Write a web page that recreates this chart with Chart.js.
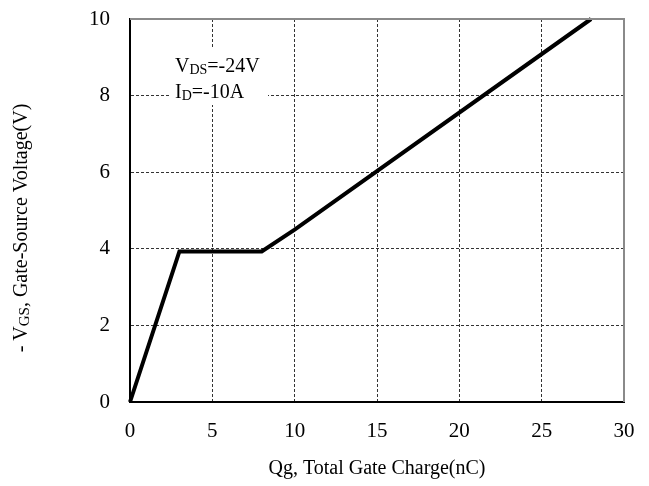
<!DOCTYPE html>
<html><head><meta charset="utf-8">
<script src="https://cdn.jsdelivr.net/npm/chart.js@4/dist/chart.umd.min.js"></script>
<style>html,body{margin:0;padding:0;background:#fff}#wrap{width:649px;height:486px}</style>
</head><body><div id="wrap"><canvas id="c" width="649" height="486"></canvas></div>
<script>
const qg = [0, 3, 8, 10, 28];
const vgs = [0, 3.93, 3.93, 4.5, 10];
const xTicks = [0, 5, 10, 15, 20, 25, 30];
const yTicks = [0, 2, 4, 6, 8, 10];
const xTitle = "Qg, Total Gate Charge(nC)";
const yTitleParts = [["- V", false], ["GS", true], [", Gate-Source Voltage(V)", false]];
const noteLine1 = [["V", false], ["DS", true], ["=-24V", false]];
const noteLine2 = [["I", false], ["D", true], ["=-10A", false]];

const FONT = "'Liberation Serif', 'Times New Roman', serif";

function drawParts(ctx, parts, x, y, size, subSize) {
  let cx = x;
  for (const [t, sub] of parts) {
    ctx.font = (sub ? subSize : size) + "px " + FONT;
    ctx.fillText(t, cx, sub ? y + 2 : y);
    cx += ctx.measureText(t).width;
  }
  return cx - x;
}
function widthParts(ctx, parts, size, subSize) {
  let w = 0;
  for (const [t, sub] of parts) {
    ctx.font = (sub ? subSize : size) + "px " + FONT;
    w += ctx.measureText(t).width;
  }
  return w;
}

const deco = {
  id: 'deco',
  afterDraw(chart) {
    const ctx = chart.ctx, a = chart.chartArea;
    const xs = chart.scales.x, ys = chart.scales.y;
    ctx.save();
    ctx.strokeStyle = '#8a8a8a';
    ctx.lineWidth = 2;
    ctx.beginPath();
    ctx.moveTo(a.left, a.top); ctx.lineTo(a.right, a.top); ctx.lineTo(a.right, a.bottom);
    ctx.stroke();
    // note box
    ctx.fillStyle = '#fff';
    ctx.fillRect(170, 47, 98, 58);
    ctx.fillStyle = '#000';
    ctx.textBaseline = 'alphabetic';
    ctx.textAlign = 'left';
    drawParts(ctx, noteLine1, 175, 72, 20, 14);
    drawParts(ctx, noteLine2, 175, 98, 20, 14);
    // x title
    ctx.font = "20px " + FONT;
    ctx.textAlign = 'center';
    ctx.fillText(xTitle, (a.left + a.right) / 2, 474);
    // y title rotated
    ctx.textAlign = 'left';
    ctx.translate(27, 228);
    ctx.rotate(-Math.PI / 2);
    const w = widthParts(ctx, yTitleParts, 20, 15);
    drawParts(ctx, yTitleParts, -w / 2, 0, 20, 15);
    ctx.restore();
  }
};

new Chart(document.getElementById('c'), {
  type: 'scatter',
  data: {
    datasets: [{
      data: qg.map((x, i) => ({x, y: vgs[i]})),
      showLine: true,
      borderColor: '#000',
      borderWidth: 4,
      pointRadius: 0,
      tension: 0,
      fill: false,
      clip: false
    }]
  },
  options: {
    responsive: false,
    animation: false,
    devicePixelRatio: 1,
    layout: { padding: { left: 0, top: 19, right: 25, bottom: 0 } },
    plugins: { legend: { display: false }, tooltip: { enabled: false } },
    scales: {
      x: {
        type: 'linear', min: 0, max: 30,
        afterFit: s => { s.height = 84; s.paddingLeft = 0; s.paddingRight = 0; },
        afterBuildTicks: s => { s.ticks = xTicks.map(v => ({ value: v })); },
        ticks: { color: '#000', font: { family: FONT, size: 21 }, padding: 17 },
        grid: { color: '#333', drawTicks: false },
        border: { color: '#000', width: 2, dash: [3, 2] }
      },
      y: {
        type: 'linear', min: 0, max: 10,
        afterFit: s => { s.width = 130; s.paddingTop = 0; s.paddingBottom = 0; },
        afterBuildTicks: s => { s.ticks = yTicks.map(v => ({ value: v })); },
        ticks: { color: '#000', font: { family: FONT, size: 21 }, padding: 20 },
        grid: { color: '#333', drawTicks: false },
        border: { color: '#000', width: 2, dash: [3, 2] }
      }
    }
  },
  plugins: [deco]
});
</script>
</body></html>
